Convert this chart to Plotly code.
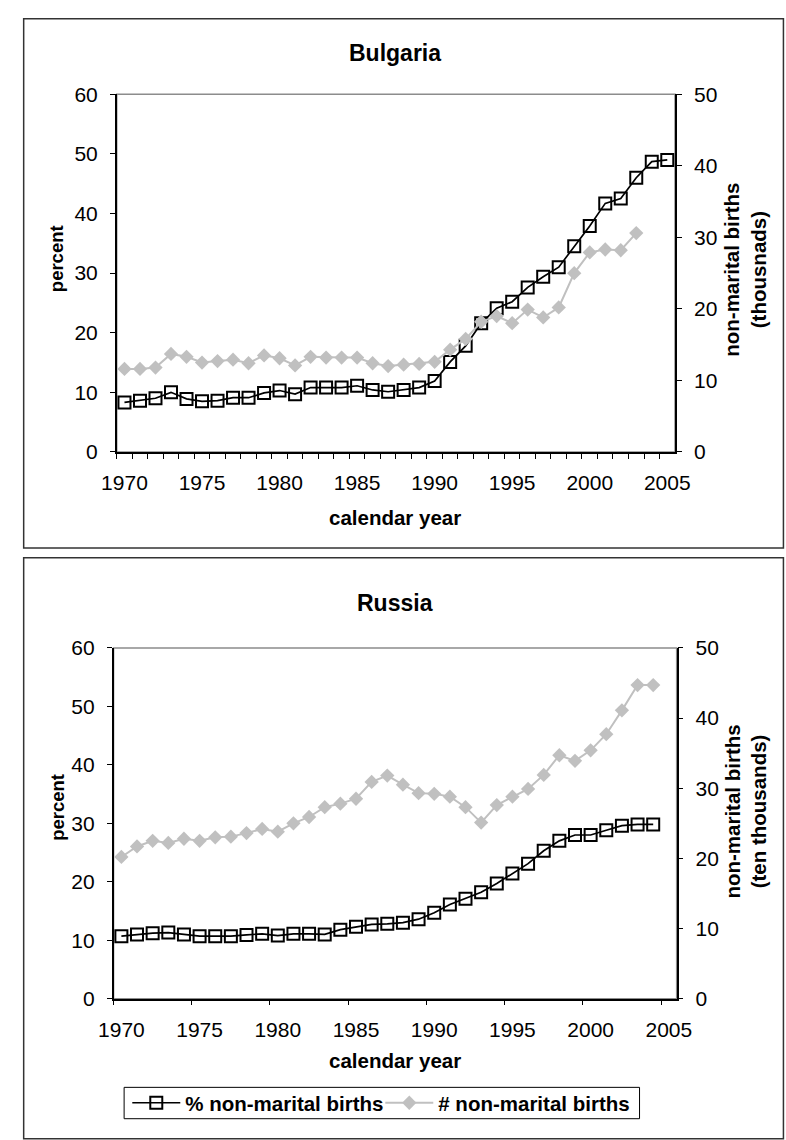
import plotly.graph_objects as go

# ---- data -------------------------------------------------------------
years_bg_pct = list(range(1970, 2006))
bg_pct = [8.3, 8.6, 9.0, 10.0, 8.9, 8.5, 8.6, 9.1, 9.1, 9.9, 10.3, 9.7, 10.8, 10.8, 10.8, 11.1, 10.4,
          10.1, 10.4, 10.8, 11.9, 15.1, 17.8, 21.6, 24.1, 25.2, 27.6, 29.4, 31.0, 34.5, 37.9, 41.7,
          42.5, 46.0, 48.7, 49.0]
years_bg_num = list(range(1970, 2004))
bg_num = [11.6, 11.6, 11.8, 13.7, 13.3, 12.5, 12.7, 12.9, 12.4, 13.5, 13.1, 12.1, 13.3, 13.2, 13.2,
          13.2, 12.4, 12.0, 12.2, 12.3, 12.6, 14.3, 15.8, 18.2, 19.0, 18.0, 19.9, 18.8, 20.2, 25.0,
          27.9, 28.3, 28.2, 30.6]

years_ru = list(range(1970, 2005))
ru_pct = [10.7, 11.0, 11.2, 11.3, 11.0, 10.7, 10.7, 10.7, 10.9, 11.1, 10.8, 11.1, 11.1, 11.0, 11.8,
          12.3, 12.7, 12.8, 13.0, 13.6, 14.7, 16.1, 17.1, 18.2, 19.7, 21.4, 23.1, 25.3, 27.0, 28.0,
          28.0, 28.8, 29.6, 29.8, 29.8]
ru_num = [20.2, 21.7, 22.5, 22.2, 22.8, 22.5, 23.0, 23.1, 23.6, 24.2, 23.8, 25.0, 25.9, 27.3, 27.8,
          28.5, 30.9, 31.8, 30.5, 29.3, 29.2, 28.8, 27.3, 25.1, 27.6, 28.8, 29.9, 31.9, 34.7, 33.9,
          35.4, 37.7, 41.1, 44.7, 44.7]

pct_ticks = [0, 10, 20, 30, 40, 50, 60]
num_ticks = [0, 10, 20, 30, 40, 50]
year_labels = [1970, 1975, 1980, 1985, 1990, 1995, 2000, 2005]

FONT = "Liberation Sans, Arial, sans-serif"
W, H = 786, 1140
BLACK = "#000000"
SILVER = "#c0c0c0"
XR = [1969.5, 2005.5]


def px_x(v):
    return v / W


def px_y(v):
    return 1 - v / H


fig = go.Figure()


def add_series(xa, ya_l, ya_r, yrs_p, pct, yrs_n, num, legend):
    fig.add_trace(go.Scatter(
        x=yrs_p, y=pct, name="% non-marital births", mode="lines+markers",
        line=dict(color=BLACK, width=1.7),
        marker=dict(symbol="square-open", size=12, color=BLACK, line=dict(width=2, color=BLACK)),
        xaxis=xa, yaxis=ya_l, showlegend=legend, legendrank=1))
    fig.add_trace(go.Scatter(
        x=yrs_n, y=num, name="# non-marital births", mode="lines+markers",
        line=dict(color=SILVER, width=2),
        marker=dict(symbol="diamond", size=11, color=SILVER),
        xaxis=xa, yaxis=ya_r, showlegend=legend, legendrank=2))


add_series("x", "y", "y2", years_bg_pct, bg_pct, years_bg_num, bg_num, False)
add_series("x2", "y3", "y4", years_ru, ru_pct, years_ru, ru_num, True)

tickfont = dict(family=FONT, size=21, color=BLACK)


def setup_panel(xn, yl, yr, xin, ylin, yrin, xdom, ydom, minor_vals):
    xref = "x" if xn == 1 else f"x{xn}"
    ylref = "y" if yl == 1 else f"y{yl}"
    key = lambda a, n: a if n == 1 else f"{a}{n}"
    fig.layout[key("xaxis", xn)] = dict(
        domain=xdom, anchor=ylref, range=XR, tickmode="array", tickvals=year_labels,
        ticks="", showline=True, linecolor=BLACK, linewidth=1.5, showgrid=False, zeroline=False,
        tickfont=tickfont, ticklabelstandoff=11,
        minor=dict(tickmode="array", tickvals=minor_vals, ticks="outside", ticklen=5,
                   tickcolor=BLACK, tickwidth=1, showgrid=False))
    fig.layout[key("xaxis", xin)] = dict(
        overlaying=xref, anchor=ylref, range=XR, tickmode="array", tickvals=minor_vals,
        ticks="inside", ticklen=5, tickcolor=BLACK, tickwidth=1, showticklabels=False,
        showline=False, showgrid=False, zeroline=False)
    fig.layout[key("yaxis", yl)] = dict(
        domain=ydom, anchor=xref, range=[0, 60], tickmode="array", tickvals=pct_ticks,
        ticks="outside", ticklen=5, tickcolor=BLACK, tickwidth=1, showline=True, linecolor=BLACK,
        linewidth=1.5, showgrid=False, zeroline=False, tickfont=tickfont, ticklabelstandoff=8)
    fig.layout[key("yaxis", yr)] = dict(
        overlaying=ylref, anchor=xref, side="right", range=[0, 50], tickmode="array",
        tickvals=num_ticks, ticks="outside", ticklen=5, tickcolor=BLACK, tickwidth=1,
        showline=True, linecolor=BLACK, linewidth=1.5, showgrid=False, zeroline=False,
        tickfont=tickfont, ticklabelstandoff=8)
    fig.layout[key("yaxis", ylin)] = dict(
        overlaying=ylref, anchor=xref, side="left", range=[0, 60], tickmode="array",
        tickvals=pct_ticks, ticks="inside", ticklen=5, tickcolor=BLACK, tickwidth=1,
        showticklabels=False, showline=False, showgrid=False, zeroline=False)
    fig.layout[key("yaxis", yrin)] = dict(
        overlaying=ylref, anchor=xref, side="right", range=[0, 50], tickmode="array",
        tickvals=num_ticks, ticks="inside", ticklen=5, tickcolor=BLACK, tickwidth=1,
        showticklabels=False, showline=False, showgrid=False, zeroline=False)


bg_minor = [y - 0.5 for y in range(1970, 2006)]
ru_minor = [y - 0.5 for y in range(1970, 2006, 5)]

bg_xdom = [px_x(105), px_x(687)]
bg_ydom = [px_y(449), px_y(84)]
ru_xdom = [px_x(101.7), px_x(688.7)]
ru_ydom = [px_y(1007), px_y(649)]

setup_panel(1, 1, 2, 3, 5, 6, bg_xdom, bg_ydom, bg_minor)
setup_panel(2, 3, 4, 4, 7, 8, ru_xdom, ru_ydom, ru_minor)

shapes = []
# chart frames (right edge and the lower chart's bottom run off the page)
shapes.append(dict(type="rect", xref="paper", yref="paper", x0=px_x(8), x1=px_x(800),
                   y0=px_y(547), y1=px_y(7), line=dict(color="#333333", width=1.5), layer="below"))
shapes.append(dict(type="rect", xref="paper", yref="paper", x0=px_x(8), x1=px_x(800),
                   y0=px_y(1150), y1=px_y(557), line=dict(color="#333333", width=1.5), layer="below"))
# plot-area borders (grey, under the axis lines)
for xd, yd in ((bg_xdom, bg_ydom), (ru_xdom, ru_ydom)):
    shapes.append(dict(type="rect", xref="paper", yref="paper", x0=xd[0], x1=xd[1],
                       y0=yd[0], y1=yd[1], line=dict(color="#8c8c8c", width=1.5), layer="below"))
# legend box
shapes.append(dict(type="rect", xref="paper", yref="paper", x0=px_x(112.7), x1=px_x(650),
                   y0=px_y(1129.5), y1=px_y(1097.5), line=dict(color=BLACK, width=1),
                   fillcolor="white", layer="below"))

bold = lambda s: dict(family=FONT, size=s, color=BLACK, weight="bold")
annotations = [
    dict(text="Bulgaria", x=px_x(395), y=px_y(42), font=bold(23)),
    dict(text="Russia", x=px_x(395), y=px_y(603), font=bold(23)),
    dict(text="percent", x=px_x(43), y=px_y(252), textangle=-90, font=bold(18.5)),
    dict(text="percent", x=px_x(43), y=px_y(812), textangle=-90, font=bold(18.5)),
    dict(text="non-marital births<br>(thousnads)", x=px_x(760), y=px_y(263), textangle=-90,
         font=bold(20.5)),
    dict(text="non-marital births<br>(ten thousands)", x=px_x(760), y=px_y(816), textangle=-90,
         font=bold(20.5)),
    dict(text="calendar year", x=px_x(395), y=px_y(516), font=bold(20.5)),
    dict(text="calendar year", x=px_x(395), y=px_y(1070), font=bold(20.5)),
]
for a in annotations:
    a.update(xref="paper", yref="paper", showarrow=False, xanchor="center", yanchor="middle")

fig.update_layout(
    width=W, height=H, margin=dict(l=0, r=0, t=0, b=0),
    paper_bgcolor="white", plot_bgcolor="white",
    font=dict(family=FONT, color=BLACK),
    shapes=shapes, annotations=annotations,
    legend=dict(orientation="h", x=px_x(116), y=px_y(1093), xanchor="left", yanchor="top",
                borderwidth=0, bgcolor="rgba(0,0,0,0)", font=bold(20.5), traceorder="normal",
                itemwidth=48, entrywidth=190, entrywidthmode="pixels", tracegroupgap=0),
)

fig.write_html("out.html")
